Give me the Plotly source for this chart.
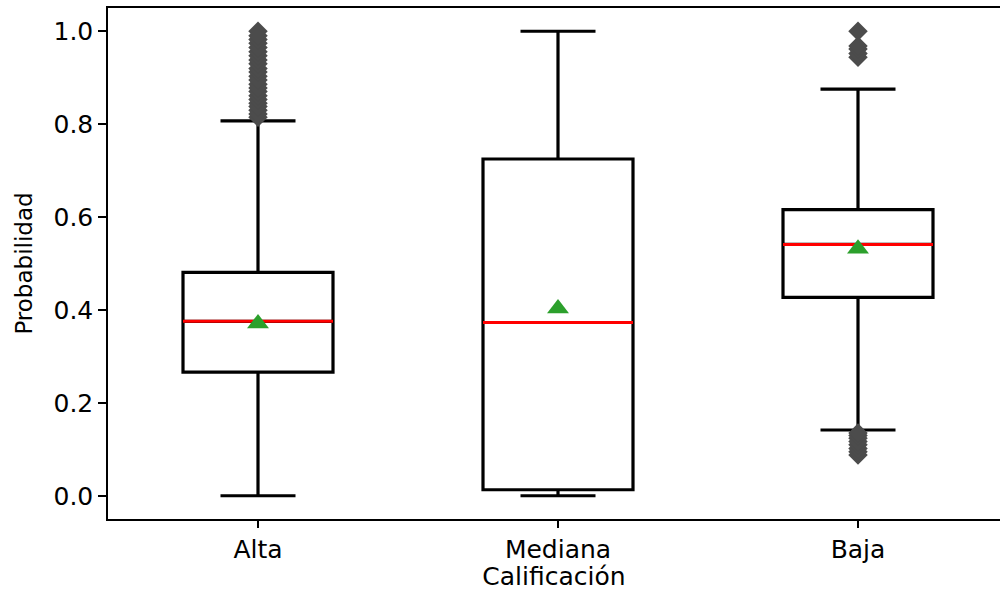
import plotly.graph_objects as go

categories = ["Alta", "Mediana", "Baja"]
q1 = [0.266, 0.013, 0.427]
median = [0.3755, 0.373, 0.541]
q3 = [0.481, 0.725, 0.616]
lower_whisker = [0.0, 0.0, 0.1416]
upper_whisker = [0.807, 1.0, 0.8755]
means = [0.371, 0.403, 0.532]

outliers_alta = [0.815, 0.822, 0.83, 0.838, 0.845, 0.853, 0.861, 0.87, 0.878,
                 0.886, 0.895, 0.903, 0.912, 0.92, 0.93, 0.938, 0.947, 0.956,
                 0.965, 0.974, 0.982, 0.99, 1.0]
outliers_mediana = []
outliers_baja = [0.088, 0.095, 0.102, 0.11, 0.117, 0.124, 0.13, 0.135,
                 0.944, 0.952, 0.962, 0.968, 1.0]
outliers = [outliers_alta, outliers_mediana, outliers_baja]

xlabel = "Calificación"
ylabel = "Probabilidad"

BOX_W = 0.5
FONT = "DejaVu Sans"

fig = go.Figure()
pos = list(range(len(categories)))

for i in pos:
    fig.add_trace(go.Box(
        x=[i], q1=[q1[i]], median=[median[i]], q3=[q3[i]],
        lowerfence=[lower_whisker[i]], upperfence=[upper_whisker[i]],
        width=BOX_W, whiskerwidth=0.5, boxpoints=False,
        line=dict(color="black", width=3.2), fillcolor="white",
        showlegend=False, hoverinfo="skip",
    ))

# red median lines
mx, my = [], []
for i in pos:
    mx += [i - BOX_W / 2, i + BOX_W / 2, None]
    my += [median[i], median[i], None]
fig.add_trace(go.Scatter(x=mx, y=my, mode="lines",
                         line=dict(color="red", width=3), showlegend=False))

# outliers
ox, oy = [], []
for i in pos:
    ox += [i] * len(outliers[i])
    oy += outliers[i]
fig.add_trace(go.Scatter(x=ox, y=oy, mode="markers",
                         marker=dict(symbol="diamond", size=15, color="#4c4c4c",
                                     line=dict(width=0)),
                         showlegend=False))

# means
fig.add_trace(go.Scatter(x=pos, y=means, mode="markers",
                         marker=dict(symbol="triangle-up", size=19, color="#2ca02c",
                                     line=dict(width=0)),
                         showlegend=False))

W, H = 1000, 591
L, R, T, B = 108, 0, 8, 72
px_per_cat = 300
xmax = -0.5 + (W - L - R) / px_per_cat

fig.update_layout(
    width=W, height=H,
    margin=dict(l=L, r=R, t=T, b=B, pad=0),
    plot_bgcolor="white", paper_bgcolor="white",
    font=dict(family=FONT, color="black", size=26),
    showlegend=False,
)
fig.update_xaxes(
    range=[-0.5, xmax], tickvals=pos, ticktext=categories,
    showline=True, linecolor="black", linewidth=1.5, mirror=True,
    ticks="outside", ticklen=7, tickwidth=1.5, tickcolor="black",
    showgrid=False, zeroline=False, automargin=False,
    tickfont=dict(family=FONT, size=25),
    title=dict(text=xlabel, font=dict(family=FONT, size=25), standoff=5),
)
fig.update_yaxes(
    range=[-0.05, 1.05], tickvals=[0, 0.2, 0.4, 0.6, 0.8, 1.0],
    ticktext=["0.0", "0.2", "0.4", "0.6", "0.8", "1.0"],
    showline=True, linecolor="black", linewidth=1.5,
    ticks="outside", ticklen=8, tickwidth=1.5, tickcolor="black",
    showgrid=False, zeroline=False, automargin=False,
    tickfont=dict(family=FONT, size=25),
    title=dict(text=ylabel, font=dict(family=FONT, size=23), standoff=14),
)

fig.write_html("out.html", config={"displayModeBar": False},
               post_script="document.body.style.margin='0px';")
